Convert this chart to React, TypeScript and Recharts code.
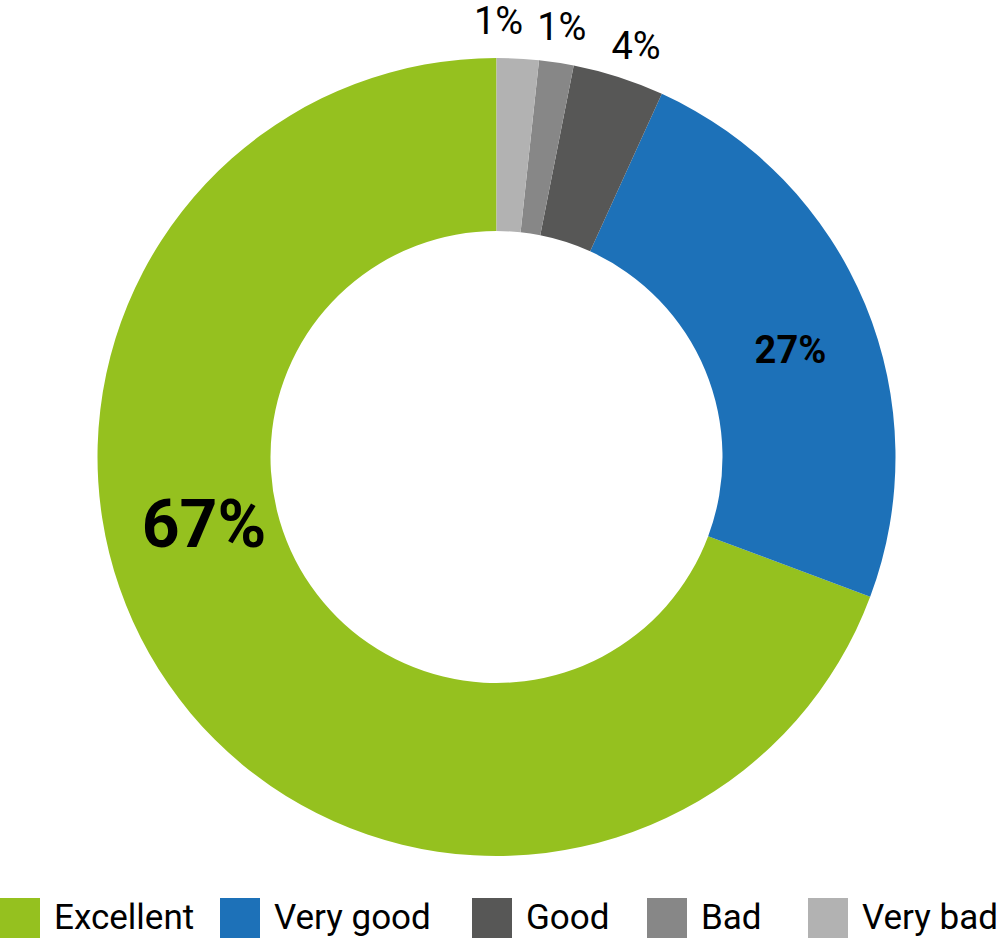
import { PieChart, Pie, Cell } from 'recharts'

// rating categories, in legend order
const categories = ['Excellent', 'Very good', 'Good', 'Bad', 'Very bad']
// slice shares as drawn
const shares = [69.3, 23.9, 3.7, 1.4, 1.7]
// printed labels
const labels = ['67%', '27%', '4%', '1%', '1%']
const colors = ['#95C11F', '#1D71B8', '#575756', '#878787', '#B2B2B2']

const chartData = categories.map((name, i) => ({ name, value: shares[i], label: labels[i] }))

const FONT = 'Roboto, "Noto Sans", Arial, sans-serif'
const RADIAN = Math.PI / 180

// label placement relative to the slice's mid angle (manual nudges like the original)
const labelLayout = [
  { dAngle: -21.9, r: 300, size: 66, weight: 700 },
  { dAngle: -2.4, r: 313, size: 38, weight: 700 },
  { dAngle: -0.9, r: 435, size: 38, weight: 400 },
  { dAngle: 0, r: 435, size: 38, weight: 400 },
  { dAngle: 2.8, r: 437, size: 38, weight: 400 },
]

// left edge of each legend swatch
const legendLeft = [0, 220, 472, 647, 808]

function renderLabel(props: any) {
  const { cx, cy, midAngle, index } = props
  const lay = labelLayout[index]
  const a = (midAngle + lay.dAngle) * RADIAN
  const x = cx + lay.r * Math.cos(a)
  const y = cy - lay.r * Math.sin(a)
  return (
    <text
      x={x}
      y={y + lay.size * 0.355}
      textAnchor="middle"
      fill="#000"
      fontFamily={FONT}
      fontSize={lay.size}
      fontWeight={lay.weight}
    >
      {chartData[index].label}
    </text>
  )
}

export default function App() {
  return (
    <div style={{ position: 'absolute', left: 0, top: 0, width: 1000, height: 940, background: '#fff' }}>
      <PieChart width={1000} height={880} margin={{ top: 0, right: 0, bottom: 0, left: 0 }}>
        <Pie
          data={chartData}
          dataKey="value"
          nameKey="name"
          cx={496.5}
          cy={457}
          innerRadius={226}
          outerRadius={399}
          startAngle={90}
          endAngle={450}
          stroke="none"
          label={renderLabel}
          labelLine={false}
          isAnimationActive={false}
        >
          {chartData.map((d, i) => (
            <Cell key={d.name} fill={colors[i]} />
          ))}
        </Pie>
      </PieChart>
      <div style={{
        position: 'absolute', left: 0, top: 898, width: 1000, height: 40,
        fontFamily: FONT, fontSize: 35, color: '#000',
      }}>
        {categories.map((name, i) => (
          <div key={name} style={{
            position: 'absolute', left: legendLeft[i], top: 0, height: 40,
            display: 'flex', alignItems: 'center', gap: 14, whiteSpace: 'nowrap',
          }}>
            <span style={{ width: 40, height: 40, background: colors[i], display: 'inline-block' }} />
            <span style={{ lineHeight: '40px' }}>{name}</span>
          </div>
        ))}
      </div>
    </div>
  )
}
